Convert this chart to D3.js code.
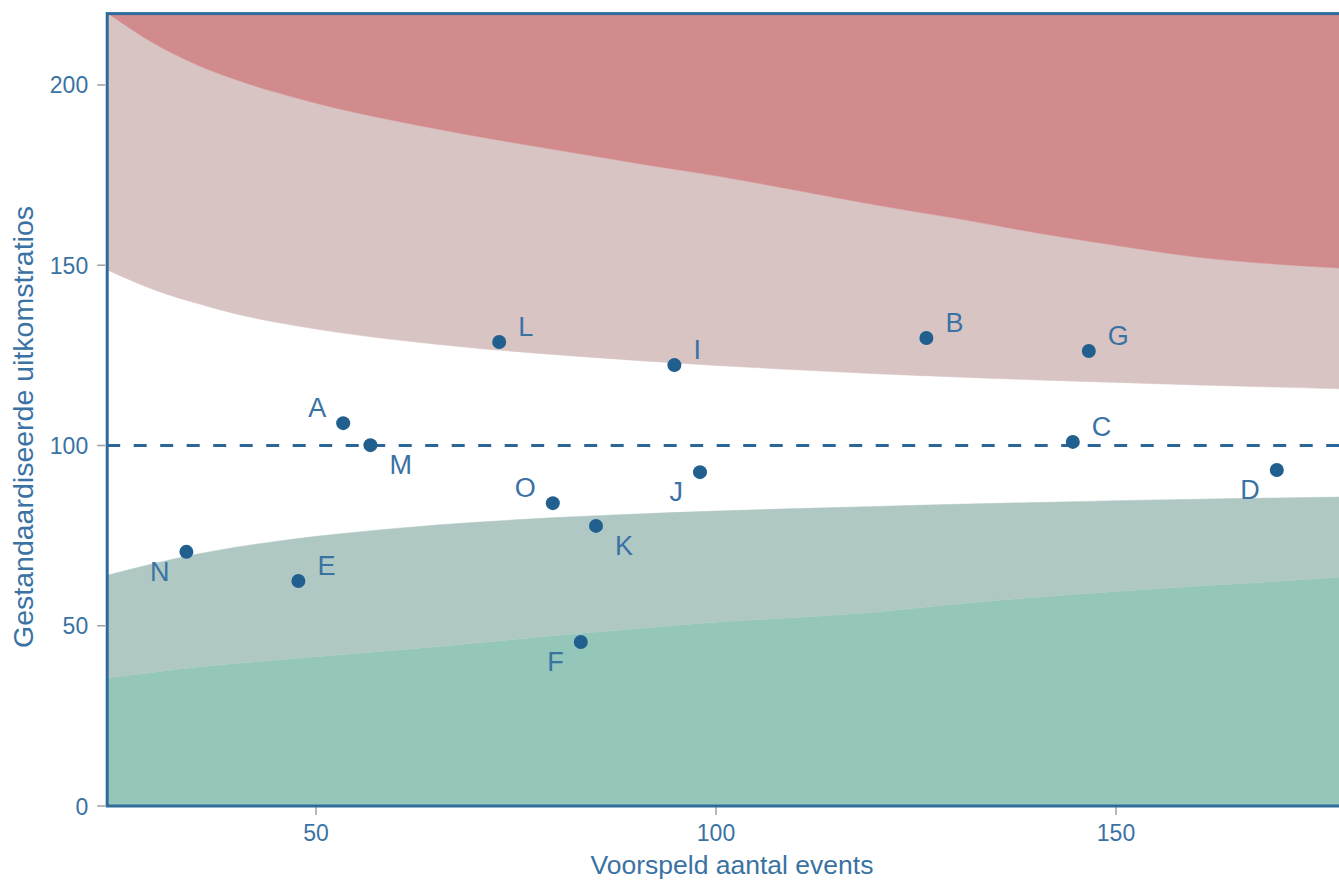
<!DOCTYPE html>
<html>
<head>
<meta charset="utf-8">
<script src="https://cdn.jsdelivr.net/npm/d3@7/dist/d3.min.js"></script>
<style>
  html, body { margin: 0; padding: 0; background: #ffffff; }
  svg { display: block; font-family: "Liberation Sans", Arial, sans-serif; }
</style>
</head>
<body>
<svg id="chart" width="1339" height="882"></svg>
<script>
// Funnel plot: standardised outcome ratios per unit against expected events.

// Control limit curves (expected events -> ratio)
const limitX     = [23.9, 30, 35, 40, 45, 50, 60, 70, 80, 90, 100, 110, 120, 130, 140, 150, 160, 170, 178.3];
const upper99    = [220, 211.2, 205.7, 201.45, 197.95, 194.95, 190, 185.8, 182, 178.3, 174.8, 170.8, 166.7, 163, 159, 155.5, 152.3, 150.3, 149.2];
const upper95    = [148.7, 143, 139.5, 136.5, 134.2, 132.3, 129.3, 127, 125.2, 123.6, 122.2, 121, 119.9, 119, 118.2, 117.5, 116.8, 116.2, 115.7];
const lower95    = [64, 67.4, 69.8, 71.8, 73.4, 74.8, 77, 78.7, 80, 81, 81.8, 82.5, 83.1, 83.7, 84.2, 84.7, 85.1, 85.45, 85.7];
const lower99    = [35.5, 37.2, 38.5, 39.5, 40.5, 41.4, 43.2, 45.2, 47.3, 49.2, 51, 52.3, 53.8, 56, 57.9, 59.5, 61, 62.3, 63.5];

// Units
const unitNames    = ["A", "B", "C", "D", "E", "F", "G", "I", "J", "K", "L", "M", "N", "O"];
const expected     = [53.4, 126.3, 144.6, 170.1, 47.8, 83.1, 146.6, 94.8, 98.0, 85.0, 72.9, 56.8, 33.8, 79.6];
const ratio        = [106.2, 129.8, 101.0, 93.2, 62.4, 45.5, 126.2, 122.3, 92.6, 77.7, 128.7, 100.1, 70.5, 84.0];
const labelSide    = ["lu", "ru", "ru", "ld", "ru", "ld", "ru", "ru", "ld", "rd", "ru", "rd", "ld", "lu"];

// Axis ticks
const xTicks = [50, 100, 150];
const yTicks = [0, 50, 100, 150, 200];
const referenceRatio = 100;

const xTitle = "Voorspeld aantal events";
const yTitle = "Gestandaardiseerde uitkomstratios";

const plotL = 107.2, plotR = 1342, plotT = 13.6, plotB = 806;

const x = d3.scaleLinear().domain([23.9, 178.25]).range([plotL, plotR]);
const y = d3.scaleLinear().domain([0, 219.8]).range([plotB, plotT]);

const svg = d3.select("#chart");
const textCol = "#3a72a3";
const frameCol = "#2f6a9b";
const pointCol = "#215f8e";

svg.append("defs").append("clipPath").attr("id", "plotClip")
  .append("rect").attr("x", plotL).attr("y", plotT)
  .attr("width", plotR - plotL).attr("height", plotB - plotT);

const g = svg.append("g").attr("clip-path", "url(#plotClip)");

const rows = limitX.map((v, i) => ({ x: v, u99: upper99[i], u95: upper95[i], l95: lower95[i], l99: lower99[i] }));
const yMax = y.domain()[1] + 10;

function band(lo, hi) {
  return d3.area()
    .x(d => x(d.x))
    .y0(d => y(lo(d)))
    .y1(d => y(hi(d)))
    .curve(d3.curveMonotoneX);
}

const bands = [
  { lo: d => -10,   hi: d => d.l99, fill: "#94c6b9" },
  { lo: d => d.l99, hi: d => d.l95, fill: "#b0c8c3" },
  { lo: d => d.u95, hi: d => d.u99, fill: "#d9c4c4" },
  { lo: d => d.u99, hi: d => yMax,  fill: "#d28b8d" }
];
bands.forEach(b => {
  g.append("path").attr("d", band(b.lo, b.hi)(rows))
    .attr("fill", b.fill).attr("stroke", b.fill).attr("stroke-width", 0.5);
});

// Reference line
g.append("line")
  .attr("x1", plotL).attr("x2", plotR)
  .attr("y1", y(referenceRatio)).attr("y2", y(referenceRatio))
  .attr("stroke", "#2a6698").attr("stroke-width", 3)
  .attr("stroke-dasharray", "13,13.5");

// Points
const pts = unitNames.map((n, i) => ({ name: n, ex: expected[i], r: ratio[i], side: labelSide[i] }));
g.selectAll("circle.unit").data(pts).enter().append("circle")
  .attr("class", "unit")
  .attr("cx", d => x(d.ex)).attr("cy", d => y(d.r)).attr("r", 7)
  .attr("fill", pointCol);

g.selectAll("text.unit").data(pts).enter().append("text")
  .attr("class", "unit")
  .attr("x", d => x(d.ex) + (d.side[0] === "r" ? 19 : -17))
  .attr("y", d => y(d.r) + (d.side[1] === "u" ? -6 : 29))
  .attr("text-anchor", d => d.side[0] === "r" ? "start" : "end")
  .attr("font-size", 27).attr("fill", textCol)
  .text(d => d.name);

// Ticks
svg.append("g").selectAll("line").data(xTicks).enter().append("line")
  .attr("x1", d => x(d)).attr("x2", d => x(d))
  .attr("y1", plotB + 1).attr("y2", plotB + 9)
  .attr("stroke", "#a0a0a0").attr("stroke-width", 1.5);
svg.append("g").selectAll("text").data(xTicks).enter().append("text")
  .attr("x", d => x(d)).attr("y", plotB + 35)
  .attr("text-anchor", "middle").attr("font-size", 23).attr("fill", textCol)
  .text(d => d);

svg.append("g").selectAll("line").data(yTicks).enter().append("line")
  .attr("x1", plotL - 10).attr("x2", plotL - 2)
  .attr("y1", d => y(d)).attr("y2", d => y(d))
  .attr("stroke", "#a0a0a0").attr("stroke-width", 1.5);
svg.append("g").selectAll("text").data(yTicks).enter().append("text")
  .attr("x", plotL - 19).attr("y", d => y(d) + 8.5)
  .attr("text-anchor", "end").attr("font-size", 23).attr("fill", textCol)
  .text(d => d);

// Frame
svg.append("rect")
  .attr("x", plotL).attr("y", plotT)
  .attr("width", plotR - plotL).attr("height", plotB - plotT)
  .attr("fill", "none").attr("stroke", frameCol).attr("stroke-width", 3);

// Axis titles
svg.append("text")
  .attr("x", 732).attr("y", 874)
  .attr("text-anchor", "middle").attr("font-size", 26.5).attr("fill", textCol)
  .text(xTitle);

svg.append("text")
  .attr("transform", "translate(33,427) rotate(-90)")
  .attr("text-anchor", "middle").attr("font-size", 28.5).attr("fill", textCol)
  .text(yTitle);
</script>
</body>
</html>
